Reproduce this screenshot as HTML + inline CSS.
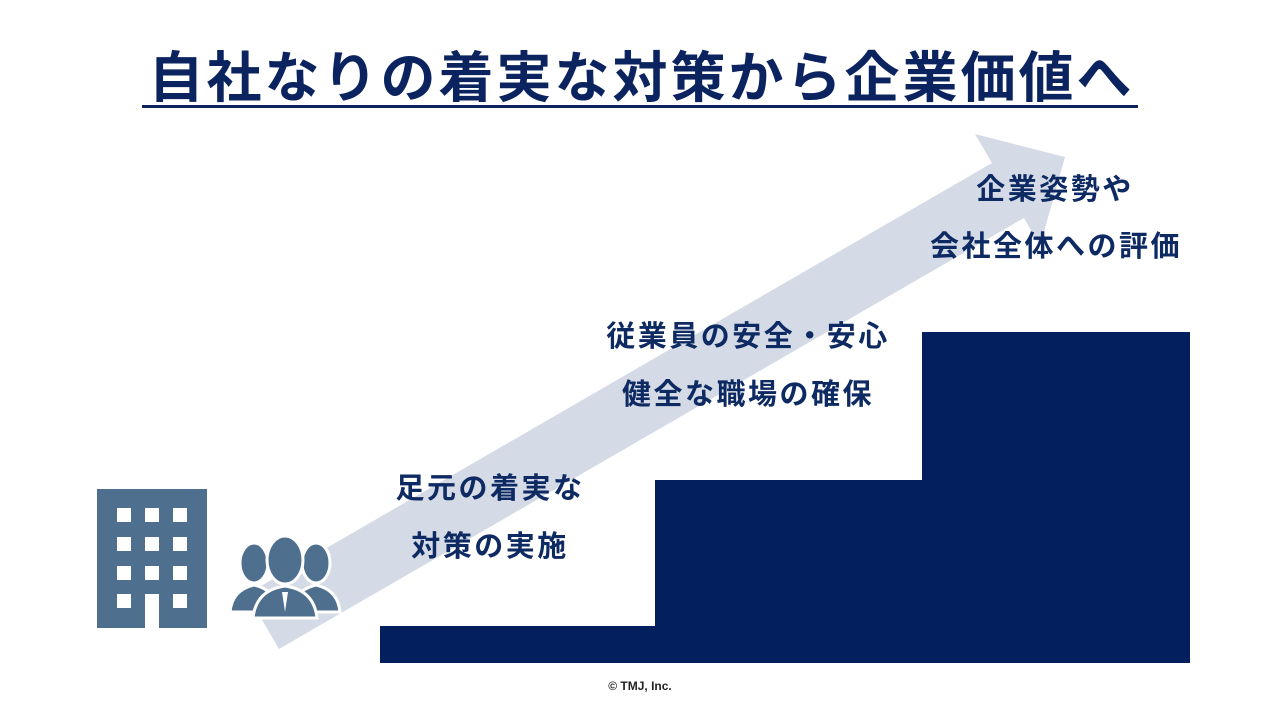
<!DOCTYPE html>
<html><head><meta charset="utf-8"><style>
body{margin:0;width:1280px;height:720px;background:#fff;position:relative;overflow:hidden;font-family:"Liberation Sans","Noto Sans CJK JP",sans-serif;color:#0e2a63}
.t{position:absolute;font-weight:bold;white-space:nowrap;text-align:center;font-size:29px;letter-spacing:2.5px;line-height:36px}
</style></head><body>
<div class="t" style="left:0;width:1283px;top:42px;font-size:55px;letter-spacing:3px;line-height:72px;color:#0b2460">自社なりの着実な対策から企業価値へ</div>
<div style="position:absolute;left:142px;top:105px;width:996px;height:3px;background:#0b2460"></div>
<svg width="1280" height="720" style="position:absolute;left:0;top:0">
<polygon points="247,594 279,649 1024,218 1040,246 1065,157 975,134 992,163" fill="#d4dbe6"/>
<rect x="380" y="626" width="810" height="37" fill="#041f5e"/>
<rect x="655" y="480" width="535" height="183" fill="#041f5e"/>
<rect x="922" y="332" width="268" height="331" fill="#041f5e"/>
<rect x="97" y="489" width="110" height="139" fill="#4f6f8f"/>
<g fill="#fff">
<rect x="117" y="508" width="14" height="14"/><rect x="145" y="508" width="14" height="14"/><rect x="173" y="508" width="14" height="14"/>
<rect x="117" y="537" width="14" height="14"/><rect x="145" y="537" width="14" height="14"/><rect x="173" y="537" width="14" height="14"/>
<rect x="117" y="566" width="14" height="14"/><rect x="145" y="566" width="14" height="14"/><rect x="173" y="566" width="14" height="14"/>
<rect x="117" y="594" width="14" height="14"/><rect x="173" y="594" width="14" height="14"/>
<rect x="145" y="594" width="14" height="34"/>
</g>
<g fill="#4f6f8f" stroke="#fff" stroke-width="3">
<ellipse cx="254" cy="563" rx="14" ry="20"/>
<path d="M230 612 Q232 590 254 585 Q276 590 278 612 Z"/>
<ellipse cx="316" cy="563" rx="14" ry="20"/>
<path d="M292 612 Q294 590 316 585 Q338 590 340 612 Z"/>
<ellipse cx="285" cy="560" rx="18" ry="24"/>
<path d="M253 618 Q256 590 285 586 Q314 590 317 618 Z"/>
</g>
<path d="M282 592 L285 612 L288 592 Z" fill="#fff"/>
</svg>
<div class="t" style="left:930px;width:250px;top:172px">企業姿勢や</div>
<div class="t" style="left:906px;width:300px;top:229px">会社全体への評価</div>
<div class="t" style="left:588px;width:320px;top:319px">従業員の安全・安心</div>
<div class="t" style="left:588px;width:320px;top:377px">健全な職場の確保</div>
<div class="t" style="left:370px;width:240px;top:471px">足元の着実な</div>
<div class="t" style="left:370px;width:240px;top:529px">対策の実施</div>
<div class="t" style="left:540px;width:200px;top:679px;font-size:12px;letter-spacing:0;line-height:14px;color:#222">© TMJ, Inc.</div>
</body></html>
